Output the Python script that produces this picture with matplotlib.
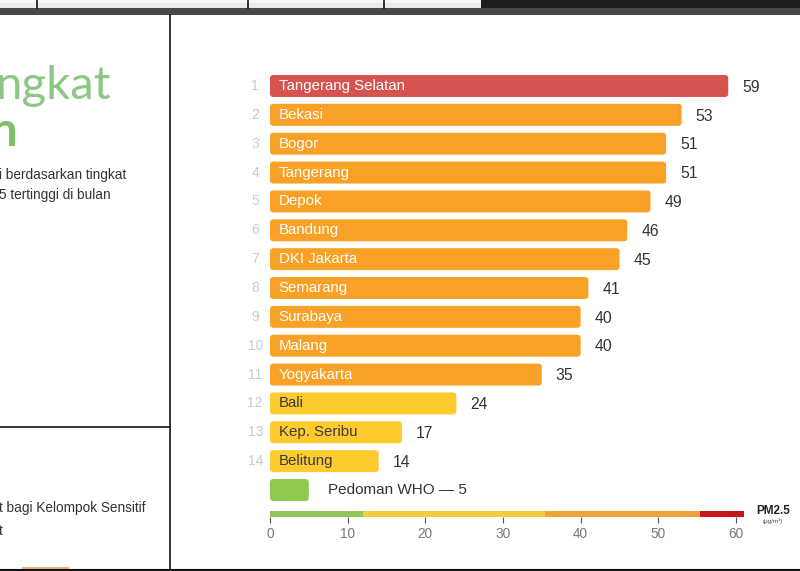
import matplotlib
matplotlib.use("Agg")
import matplotlib.pyplot as plt
from matplotlib.patches import FancyBboxPatch, Rectangle
from matplotlib.lines import Line2D

# ---------------- data ----------------
ranks = [1, 2, 3, 4, 5, 6, 7, 8, 9, 10, 11, 12, 13, 14]
cities = ["Tangerang Selatan", "Bekasi", "Bogor", "Tangerang", "Depok", "Bandung",
          "DKI Jakarta", "Semarang", "Surabaya", "Malang", "Yogyakarta", "Bali",
          "Kep. Seribu", "Belitung"]
values = [59, 53, 51, 51, 49, 46, 45, 41, 40, 40, 35, 24, 17, 14]
who_label = "Pedoman WHO — 5"
who_value = 5
scale_bounds = [0, 12, 35.4, 55.4, 61]
scale_colors = ["#93c55a", "#f6cc3f", "#eea23a", "#c8161d"]
xticks = [0, 10, 20, 30, 40, 50, 60]

RED, ORANGE, YELLOW, GREEN = "#d65350", "#f9a126", "#fdcb2e", "#8dc94e"

def bar_color(v):
    if v > 55:
        return RED
    if v >= 35:
        return ORANGE
    if v > 12:
        return YELLOW
    return GREEN

W, H = 800, 571
fig = plt.figure(figsize=(W / 100, H / 100), dpi=100)
fig.patch.set_facecolor("white")
FONT = ["Liberation Sans", "DejaVu Sans"]
plt.rcParams["font.family"] = FONT

# background / page decorations in pixel coordinates
bg = fig.add_axes([0, 0, 1, 1])
bg.set_xlim(0, W)
bg.set_ylim(H, 0)
bg.axis("off")
bg.add_patch(Rectangle((0, 0), 481, 8, color="#ececec", lw=0))
bg.add_patch(Rectangle((0, 0), 481, 3, color="#f7f7f7", lw=0))
bg.add_patch(Rectangle((481, 0), W - 481, 8, color="#1f1e1f", lw=0))
bg.add_patch(Rectangle((0, 8), W, 7, color="#46484a", lw=0))
for sx in [37, 248, 384]:
    bg.add_line(Line2D([sx, sx], [0, 8], color="#111111", lw=1.2))
bg.add_line(Line2D([170, 170], [15, H], color="#111111", lw=1.2))
bg.add_line(Line2D([0, 170], [427, 427], color="#111111", lw=1.2))
bg.add_line(Line2D([0, W], [569.5, 569.5], color="#111111", lw=1.5))
bg.add_patch(Rectangle((22, 567), 47, 4, color="#e9b27a", lw=0))

# left panel text (cut off at the page edge, as in the reference)
bg.text(-4, 86, "ngkat", fontsize=34, color="#8cc883", family=["Lato", "DejaVu Sans"],
        fontweight="normal", va="center", ha="left")
bg.text(-10, 132, "n", fontsize=34, color="#7cc06e", family=["Lato", "DejaVu Sans"],
        fontweight="bold", va="center", ha="left")
bg.text(-1, 175, "i berdasarkan tingkat", fontsize=9.8, color="#333333", va="center")
bg.text(-1, 195, "5 tertinggi di bulan", fontsize=9.8, color="#333333", va="center")
bg.text(-1, 508, "t bagi Kelompok Sensitif", fontsize=9.8, color="#333333", va="center")
bg.text(-1, 531, "t", fontsize=9.8, color="#333333", va="center")

# ---------------- main bar chart ----------------
x0_px, x60_px = 270, 736
y1_px, y15_px = 86, 490
step = (y15_px - y1_px) / 14
top_px = y1_px - step / 2
bot_px = y15_px + step / 2
ax = fig.add_axes([x0_px / W, 1 - bot_px / H, (x60_px - x0_px) / W, (bot_px - top_px) / H])
ax.set_xlim(0, 60)
ax.set_ylim(15.5, 0.5)
ax.axis("off")

all_y = ranks + [15]
all_v = values + [who_value]
all_c = [bar_color(v) for v in values] + [GREEN]
bh = 0.76
bars = ax.barh(all_y, all_v, height=bh, color=all_c)
px_x = (x60_px - x0_px) / 60
rs = 3.5 / px_x
for b, c in zip(bars, all_c):
    b.set_visible(False)
    fp = FancyBboxPatch((b.get_x(), b.get_y()), b.get_width(), b.get_height(),
                        boxstyle=f"round,pad=0,rounding_size={rs}",
                        mutation_aspect=(3.5 / step) / rs, fc=c, ec="none")
    ax.add_patch(fp)

for r, city, v in zip(ranks, cities, values):
    c = bar_color(v)
    tc = "#3a3a3a" if c == YELLOW else "#ffffff"
    ax.text(1.1, r, city, color=tc, fontsize=10.8, va="center", ha="left")
    ax.text(-1.9, r, str(r), color="#cbcbcb", fontsize=10, va="center", ha="center")
    ax.text(v + 1.8, r + 0.04, str(v), color="#333333", fontsize=11.3, va="center", ha="left")
ax.text(7.5, 15, who_label, color="#333333", fontsize=11, va="center", ha="left")

# ---------------- scale bar ----------------
cb_top, cb_bot = 511, 517
cax = fig.add_axes([x0_px / W, 1 - cb_bot / H, (x60_px - x0_px) / W, (cb_bot - cb_top) / H])
cax.set_xlim(0, 60)
cax.set_ylim(0, 1)
for lo, hi, c in zip(scale_bounds[:-1], scale_bounds[1:], scale_colors):
    cax.barh(0.5, hi - lo, left=lo, height=1, color=c, clip_on=False)
for s in cax.spines.values():
    s.set_visible(False)
cax.set_yticks([])
cax.set_xticks(xticks)
cax.set_xticklabels([str(t) for t in xticks])
cax.tick_params(axis="x", length=4, width=0.8, color="#555555", labelcolor="#777777",
                labelsize=9.8, pad=3)
cax.patch.set_alpha(0)

bg.text(773, 511, "PM2.5", fontsize=8.5, color="#222222", ha="center", va="center",
        fontweight="bold")
bg.text(773, 521, "(µg/m³)", fontsize=4.5, color="#444444", ha="center", va="center")

fig.savefig("out.png", dpi=100)
